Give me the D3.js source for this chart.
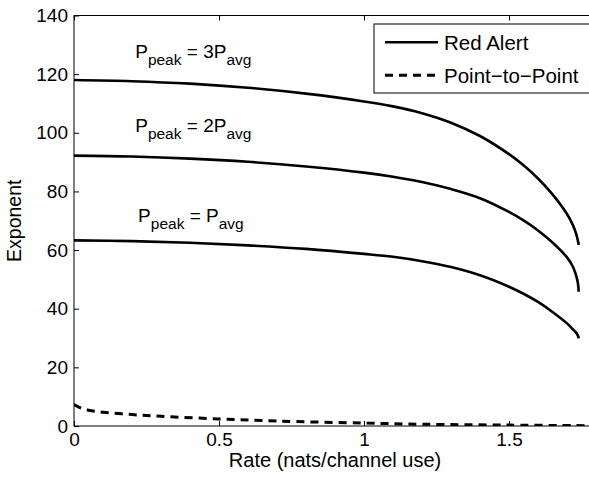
<!DOCTYPE html>
<html>
<head>
<meta charset="utf-8">
<script src="https://cdn.jsdelivr.net/npm/d3@7"></script>
<style>
  body { margin: 0; background: #fff; }
  text { font-family: "Liberation Sans", Arial, sans-serif; fill: #000; }
</style>
</head>
<body>
<div id="chart"></div>
<script>
// rate grid for the Red Alert curves (nats/channel use)
const rates = [0, 0.2, 0.4, 0.6, 0.8, 1.0, 1.1, 1.2, 1.3, 1.4, 1.5, 1.55, 1.6, 1.65, 1.7, 1.72, 1.73, 1.735, 1.738, 1.7395, 1.74];
const peak3 = [118, 117.6, 116.75, 115.35, 113.35, 110.7, 109.0, 106.7, 103.45, 98.9, 92.7, 88.9, 84.4, 79.0, 72.3, 68.6, 66.0, 64.3, 62.9, 62.4, 61.7];
const peak2 = [92.2, 91.9, 91.2, 90.1, 88.5, 86.4, 85.0, 83.2, 80.8, 77.7, 73.0, 70.1, 66.7, 62.6, 57.5, 54.4, 51.8, 50.0, 48.4, 47.1, 45.8];
const peak1 = [63.3, 63.05, 62.5, 61.6, 60.4, 58.7, 57.7, 56.2, 54.2, 51.4, 47.5, 45.1, 42.3, 38.9, 35.0, 33.0, 32.0, 31.3, 30.7, 30.3, 29.9];

// point-to-point exponent
const p2pRates = [0, 0.02, 0.05, 0.1, 0.2, 0.3, 0.5, 0.7, 1.0, 1.2, 1.5, 1.8];
const p2pValues = [7.3, 6.3, 5.4, 4.7, 3.9, 3.3, 2.4, 1.7, 1.0, 0.6, 0.3, 0.1];

const xTicks = [0, 0.5, 1, 1.5];
const yTicks = [0, 20, 40, 60, 80, 100, 120, 140];
// annotation text, anchored in data units (rate, exponent of the baseline)
const curveLabels = [
  {rhs: " = 3P", r: 0.211, e: 125.5},
  {rhs: " = 2P", r: 0.211, e: 100.3},
  {rhs: " = P", r: 0.221, e: 69.6}
];
const legendItems = [
  {name: "Red Alert", dash: null},
  {name: "Point\u2212to\u2212Point", dash: "8,6"}
];

const width = 589, height = 477;
const mLeft = 74, mTop = 15.5, mRight = 596, mBottom = 426;

const svg = d3.select("#chart")
  .append("svg")
  .attr("width", width)
  .attr("height", height);

const x = d3.scaleLinear().domain([0, 1.8]).range([mLeft, mRight]);
const y = d3.scaleLinear().domain([0, 140]).range([mBottom, mTop]);

svg.append("clipPath")
  .attr("id", "plotclip")
  .append("rect")
  .attr("x", mLeft).attr("y", mTop)
  .attr("width", mRight - mLeft).attr("height", mBottom - mTop);

// axes with inward ticks (matlab style)
const xAxis = svg.append("g")
  .attr("transform", `translate(0,${mBottom})`)
  .call(d3.axisBottom(x).tickValues(xTicks).tickFormat(d3.format("")).tickSize(-5).tickPadding(7));
const xTop = svg.append("g")
  .attr("transform", `translate(0,${mTop})`)
  .call(d3.axisTop(x).tickValues(xTicks).tickFormat("").tickSize(-5));
const yAxis = svg.append("g")
  .attr("transform", `translate(${mLeft},0)`)
  .call(d3.axisLeft(y).tickValues(yTicks).tickSize(-5).tickPadding(6));
const yRight = svg.append("g")
  .attr("transform", `translate(${mRight},0)`)
  .call(d3.axisRight(y).tickValues(yTicks).tickFormat("").tickSize(-5));

[xAxis, xTop, yAxis, yRight].forEach(g => {
  g.select(".domain").remove();
  g.selectAll("line").attr("stroke", "#000");
  g.selectAll("text").attr("font-size", 19).attr("font-family", "Liberation Sans, Arial, sans-serif").attr("fill", "#000");
});

svg.append("rect")
  .attr("x", mLeft).attr("y", mTop)
  .attr("width", mRight - mLeft).attr("height", mBottom - mTop)
  .attr("fill", "none")
  .attr("stroke", "#000")
  .attr("stroke-width", 1);

const line = d3.line()
  .x(d => x(d[0]))
  .y(d => y(d[1]))
  .curve(d3.curveCatmullRom.alpha(0.5));

const plot = svg.append("g").attr("clip-path", "url(#plotclip)");

[peak3, peak2, peak1].forEach(vals => {
  plot.append("path")
    .datum(rates.map((r, i) => [r, vals[i]]))
    .attr("fill", "none")
    .attr("stroke", "#000")
    .attr("stroke-width", 2.6)
    .attr("d", line);
});

plot.append("path")
  .datum(p2pRates.map((r, i) => [r, p2pValues[i]]))
  .attr("fill", "none")
  .attr("stroke", "#000")
  .attr("stroke-width", 3)
  .attr("stroke-dasharray", "8,6")
  .attr("d", line);

// curve annotations
curveLabels.forEach(c => {
  const t = svg.append("text")
    .attr("x", x(c.r))
    .attr("y", y(c.e))
    .attr("font-size", 19);
  t.append("tspan").text("P");
  t.append("tspan").attr("dy", 7).attr("font-size", 15.5).text("peak");
  t.append("tspan").attr("dy", -7).text(c.rhs);
  t.append("tspan").attr("dy", 7).attr("font-size", 15.5).text("avg");
});

// legend
const legend = svg.append("g");
legend.append("rect")
  .attr("x", 374).attr("y", 24)
  .attr("width", 220).attr("height", 69)
  .attr("fill", "#fff")
  .attr("stroke", "#000")
  .attr("stroke-width", 1);
legendItems.forEach((d, i) => {
  const ly = 42.3 + i * 33;
  legend.append("line")
    .attr("x1", 385).attr("x2", 438)
    .attr("y1", ly).attr("y2", ly)
    .attr("stroke", "#000")
    .attr("stroke-width", d.dash ? 3 : 2.6)
    .attr("stroke-dasharray", d.dash);
  legend.append("text")
    .attr("x", 444)
    .attr("y", ly + 7.5)
    .attr("font-size", 20.5)
    .text(d.name);
});

// axis titles
svg.append("text")
  .attr("x", (mLeft + mRight) / 2)
  .attr("y", 467)
  .attr("text-anchor", "middle")
  .attr("font-size", 20)
  .text("Rate (nats/channel use)");

svg.append("text")
  .attr("transform", `translate(21,${(mTop + mBottom) / 2}) rotate(-90)`)
  .attr("text-anchor", "middle")
  .attr("font-size", 19.5)
  .text("Exponent");
</script>
</body>
</html>
